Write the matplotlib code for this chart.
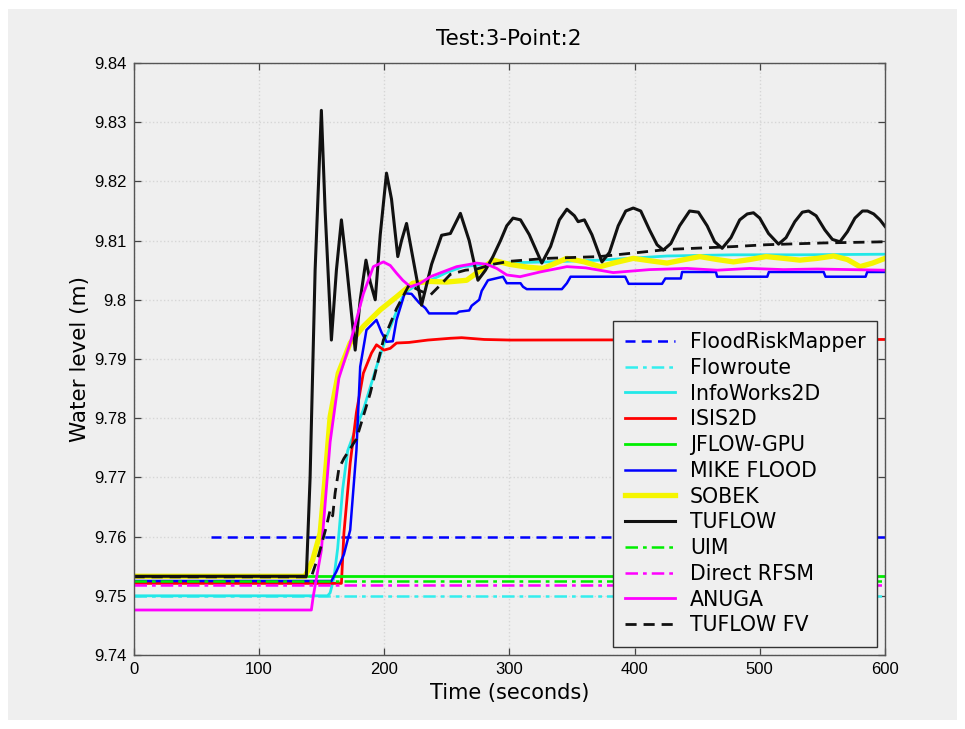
import matplotlib
matplotlib.use("Agg")
import matplotlib.pyplot as plt
from matplotlib.patches import Rectangle

plt.rcParams['font.family'] = ['Liberation Sans', 'DejaVu Sans']

# ---------------- data ----------------
frm_t = [62, 600]
frm_y = [9.760, 9.760]

flowroute_t = [0, 600]
flowroute_y = [9.7500, 9.7500]

infoworks_t = [0, 155, 157, 160, 163, 167, 171, 177, 183.5, 194, 202, 210, 216, 226, 237, 250, 263, 290, 330, 372.5, 426, 479, 532, 600]
infoworks_y = [9.7500, 9.7500, 9.7505, 9.7530, 9.7580, 9.7680, 9.7745, 9.7780, 9.7814, 9.7887, 9.7938, 9.7980, 9.8011, 9.8025, 9.8033, 9.8046, 9.8056, 9.8062, 9.8064, 9.8067, 9.8074, 9.8076, 9.8076, 9.8077]

isis_t = [0, 166, 168, 173, 178, 183.5, 190, 194, 200, 205, 210, 220, 235, 253, 262, 280, 301, 600]
isis_y = [9.7521, 9.7521, 9.7606, 9.7724, 9.7810, 9.7876, 9.7910, 9.7924, 9.7915, 9.7918, 9.7927, 9.7928, 9.7932, 9.7935, 9.7936, 9.7933, 9.7932, 9.7933]

jflow_t = [0, 600]
jflow_y = [9.7533, 9.7533]

mike_t = [0, 158, 162, 168, 173, 178, 181, 186, 194, 198, 202, 207, 210, 216.5, 222, 228, 233, 236, 258, 260, 268, 270, 276, 278, 283, 295, 298, 309, 311, 314, 342, 346, 349, 392.6, 395.3, 422, 424.6, 437, 438, 465, 466, 506, 507.3, 551, 552.5, 584.5, 585.8, 600]
mike_y = [9.7525, 9.7525, 9.7541, 9.7570, 9.7611, 9.7746, 9.7887, 9.7949, 9.7966, 9.7945, 9.7929, 9.7930, 9.7966, 9.8011, 9.8010, 9.7995, 9.7986, 9.7977, 9.7977, 9.7980, 9.7982, 9.7990, 9.8000, 9.8015, 9.8033, 9.8039, 9.8028, 9.8028, 9.8022, 9.8018, 9.8018, 9.8028, 9.8039, 9.8039, 9.8027, 9.8027, 9.8036, 9.8036, 9.8047, 9.8047, 9.8039, 9.8039, 9.8047, 9.8047, 9.8039, 9.8039, 9.8047, 9.8047]

sobek_t = [0, 137, 143, 149, 153, 157, 163.5, 173, 183.5, 197, 210, 223, 237, 250, 266, 277, 287, 300, 315, 327, 337, 346, 360, 372.5, 385, 399, 412, 426, 440, 452, 466, 479, 492, 505, 519, 532, 546, 559, 570, 580, 590, 600]
sobek_y = [9.7533, 9.7533, 9.7560, 9.7606, 9.7700, 9.7803, 9.7876, 9.7927, 9.7955, 9.7983, 9.8005, 9.8028, 9.8031, 9.8030, 9.8033, 9.8050, 9.8067, 9.8060, 9.8055, 9.8053, 9.8062, 9.8070, 9.8064, 9.8056, 9.8063, 9.8070, 9.8066, 9.8062, 9.8068, 9.8073, 9.8068, 9.8064, 9.8068, 9.8073, 9.8070, 9.8067, 9.8070, 9.8074, 9.8068, 9.8056, 9.8062, 9.8070]

tuflow_t = [0, 138, 141, 145, 150, 153, 158, 162, 166, 170, 177, 181, 185.6, 189, 193, 197, 202, 206, 211, 214, 218, 224, 230, 238, 246, 253, 261, 268, 275, 281, 287, 293, 298, 303, 309, 316, 326, 333, 340, 346, 352, 355, 360, 366, 374, 380, 387, 393, 399, 405, 412, 418, 423, 429, 436, 444, 451, 458, 464, 470, 477, 484, 490, 495, 500, 507, 515, 521, 528, 534, 539, 545, 552, 558, 564, 570, 576, 582, 586, 591, 596, 600]
tuflow_y = [9.7533, 9.7533, 9.7700, 9.8050, 9.8320, 9.8150, 9.7932, 9.8050, 9.8135, 9.8060, 9.7915, 9.8000, 9.8067, 9.8030, 9.8000, 9.8110, 9.8214, 9.8170, 9.8073, 9.8100, 9.8129, 9.8060, 9.7991, 9.8060, 9.8109, 9.8112, 9.8146, 9.8100, 9.8033, 9.8050, 9.8073, 9.8100, 9.8125, 9.8138, 9.8135, 9.8110, 9.8062, 9.8090, 9.8135, 9.8153, 9.8142, 9.8132, 9.8135, 9.8110, 9.8064, 9.8080, 9.8125, 9.8150, 9.8155, 9.8150, 9.8118, 9.8093, 9.8084, 9.8095, 9.8125, 9.8150, 9.8148, 9.8125, 9.8098, 9.8087, 9.8105, 9.8135, 9.8145, 9.8147, 9.8138, 9.8112, 9.8094, 9.8105, 9.8132, 9.8148, 9.8150, 9.8142, 9.8118, 9.8102, 9.8098, 9.8115, 9.8138, 9.8150, 9.8150, 9.8145, 9.8135, 9.8124]

uim_t = [0, 600]
uim_y = [9.7525, 9.7525]

rfsm_t = [0, 600]
rfsm_y = [9.7518, 9.7518]

anuga_t = [0, 142, 143.5, 150, 157, 164, 173, 183.5, 191.5, 199.5, 205, 210, 215, 221, 229, 237, 248, 258, 274, 282, 290, 298, 308.6, 324.6, 346, 361, 383, 412, 442, 466, 492, 519, 546, 572, 600]
anuga_y = [9.7476, 9.7476, 9.7499, 9.7577, 9.7760, 9.7868, 9.7927, 9.8010, 9.8056, 9.8064, 9.8058, 9.8045, 9.8033, 9.8022, 9.8028, 9.8039, 9.8048, 9.8056, 9.8062, 9.8060, 9.8053, 9.8042, 9.8039, 9.8047, 9.8056, 9.8054, 9.8046, 9.8051, 9.8053, 9.8050, 9.8053, 9.8051, 9.8052, 9.8051, 9.8050]

fv_t = [0, 142, 148, 154, 157, 159, 161, 164, 168, 178, 189, 199.5, 210, 220, 229, 237, 245, 253, 265, 274, 287, 300, 330, 372, 426, 480, 505, 550, 600]
fv_y = [9.7532, 9.7532, 9.7570, 9.7617, 9.7645, 9.7635, 9.7674, 9.7715, 9.7732, 9.7765, 9.7842, 9.7932, 9.7985, 9.8025, 9.8015, 9.8008, 9.8025, 9.8043, 9.8050, 9.8052, 9.8060, 9.8065, 9.8070, 9.8073, 9.8085, 9.8090, 9.8093, 9.8096, 9.8098]

labels = ['FloodRiskMapper', 'Flowroute', 'InfoWorks2D', 'ISIS2D', 'JFLOW-GPU', 'MIKE FLOOD',
          'SOBEK', 'TUFLOW', 'UIM', 'Direct RFSM', 'ANUGA', 'TUFLOW FV']
xticks = [0, 100, 200, 300, 400, 500, 600]
yticks = [9.74, 9.75, 9.76, 9.77, 9.78, 9.79, 9.80, 9.81, 9.82, 9.83, 9.84]
ytick_labels = ['9.74', '9.75', '9.76', '9.77', '9.78', '9.79', '9.8', '9.81', '9.82', '9.83', '9.84']

# ---------------- plot ----------------
BG = '#efefef'
WIDE = ['DejaVu Sans']
fig = plt.figure(figsize=(9.65, 7.29), dpi=100, facecolor='white')
fig.patches.append(Rectangle((8/965, 9/729), 949/965, 711/729, transform=fig.transFigure,
                             facecolor=BG, edgecolor='none', zorder=-10))
ax = fig.add_axes([133.5/965, 1-655/729, 751.5/965, 592/729])
ax.set_facecolor(BG)

series = [
    (frm_t, frm_y, dict(color='#0000ff', ls=(0, (4, 2.5)), lw=1.8)),
    (flowroute_t, flowroute_y, dict(color='#33eeee', ls=(0, (5, 2, 1.5, 2)), lw=1.8)),
    (infoworks_t, infoworks_y, dict(color='#22e8e8', ls='-', lw=2.0)),
    (isis_t, isis_y, dict(color='#ff0000', ls='-', lw=2.0)),
    (jflow_t, jflow_y, dict(color='#00ee00', ls='-', lw=2.0)),
    (mike_t, mike_y, dict(color='#0000ff', ls='-', lw=1.8)),
    (sobek_t, sobek_y, dict(color='#f5f500', ls='-', lw=3.8)),
    (tuflow_t, tuflow_y, dict(color='#111111', ls='-', lw=2.2)),
    (uim_t, uim_y, dict(color='#00ee00', ls=(0, (5, 2, 1.5, 2)), lw=1.8)),
    (rfsm_t, rfsm_y, dict(color='#ff00ff', ls=(0, (5, 2, 1.5, 2)), lw=1.8)),
    (anuga_t, anuga_y, dict(color='#ff00ff', ls='-', lw=2.0)),
    (fv_t, fv_y, dict(color='#111111', ls=(0, (4, 2.5)), lw=2.0)),
]
for (t, y, st), lab in zip(series, labels):
    ax.plot(t, y, label=lab, **st)

ax.set_xlim(0, 600)
ax.set_ylim(9.74, 9.84)
ax.set_xticks(xticks)
ax.set_xticklabels([str(v) for v in xticks])
ax.set_yticks(yticks)
ax.set_yticklabels(ytick_labels)
ax.tick_params(direction='in', length=5, width=0.9, color='#444444', labelsize=12,
               top=True, right=True, pad=5)
ax.grid(True, color='#d6d6d6', ls=':', lw=1.0)
for s in ax.spines.values():
    s.set_color('#555555')
    s.set_linewidth(1.0)

ax.set_title('Test:3-Point:2', fontsize=15.5, pad=13, family=WIDE)
ax.set_xlabel('Time (seconds)', fontsize=15, labelpad=4, family=WIDE)
ax.set_ylabel('Water level (m)', fontsize=15.5, labelpad=3, family=WIDE)

leg = ax.legend(loc='lower right', bbox_to_anchor=(0.989, 0.014),
                prop={'family': WIDE, 'size': 14.8},
                frameon=True, fancybox=False, framealpha=1, facecolor=BG,
                edgecolor='#333333', handlelength=2.45, handletextpad=0.72,
                labelspacing=0.28, borderpad=0.55, borderaxespad=0)
leg.get_frame().set_linewidth(1.0)

fig.savefig('out.png', dpi=100, facecolor=fig.get_facecolor())
